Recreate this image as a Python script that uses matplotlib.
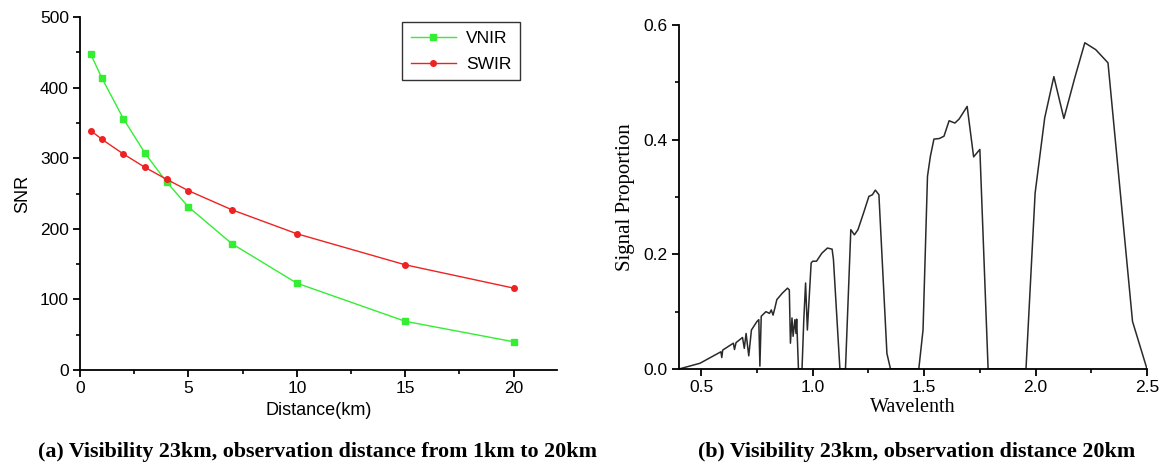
import matplotlib
matplotlib.use("Agg")
import matplotlib.pyplot as plt
from matplotlib.ticker import MultipleLocator, FormatStrFormatter

# ---------------- data ----------------
distance_km = [0.5, 1, 2, 3, 4, 5, 7, 10, 15, 20]
snr_vnir = [447, 414, 356, 307, 266, 231, 179, 123, 69, 40]
snr_swir = [339, 327, 306, 287, 270, 254, 227, 193, 149, 116]

wavelength = [0.400, 0.494, 0.588, 0.592, 0.596, 0.644, 0.649, 0.656, 0.685, 0.693,
              0.701, 0.713, 0.725, 0.750, 0.758, 0.763, 0.769, 0.790, 0.806, 0.814,
              0.822, 0.830, 0.839, 0.863, 0.887, 0.895, 0.900, 0.907, 0.912, 0.920,
              0.925, 0.928, 0.936, 0.952, 0.960, 0.968, 0.976, 0.993, 1.000, 1.017,
              1.041, 1.066, 1.087, 1.093, 1.122, 1.147, 1.171, 1.187, 1.203, 1.228,
              1.252, 1.268, 1.281, 1.297, 1.333, 1.349, 1.476, 1.495, 1.515, 1.528,
              1.544, 1.568, 1.589, 1.612, 1.638, 1.657, 1.693, 1.722, 1.750, 1.787,
              1.957, 1.998, 2.041, 2.082, 2.127, 2.176, 2.221, 2.270, 2.325, 2.435,
              2.500]
signal_prop = [0.000, 0.010, 0.030, 0.020, 0.033, 0.045, 0.034, 0.046, 0.055, 0.036,
               0.062, 0.023, 0.068, 0.083, 0.086, 0.005, 0.092, 0.100, 0.097, 0.103,
               0.094, 0.106, 0.121, 0.132, 0.141, 0.138, 0.045, 0.089, 0.057, 0.086,
               0.062, 0.087, 0.000, 0.000, 0.086, 0.150, 0.068, 0.185, 0.188, 0.188,
               0.202, 0.211, 0.209, 0.191, 0.000, 0.000, 0.243, 0.234, 0.243, 0.272,
               0.301, 0.304, 0.312, 0.304, 0.027, 0.000, 0.000, 0.068, 0.336, 0.371,
               0.401, 0.402, 0.406, 0.433, 0.429, 0.436, 0.458, 0.370, 0.383, 0.000,
               0.000, 0.307, 0.438, 0.510, 0.437, 0.508, 0.569, 0.557, 0.534, 0.083,
               0.000]

caption_a = "(a) Visibility 23km, observation distance from 1km to 20km"
caption_b = "(b) Visibility 23km, observation distance 20km"

# ---------------- figure ----------------
W, H = 1163, 467
fig = plt.figure(figsize=(W / 100, H / 100), dpi=100)

sans = "Liberation Sans"
serif = "Liberation Serif"

def style_axes(ax):
    for s in ("top", "right"):
        ax.spines[s].set_visible(False)
    for s in ("left", "bottom"):
        ax.spines[s].set_linewidth(1.3)
        ax.spines[s].set_color("black")
    ax.tick_params(which="major", direction="out", length=5, width=1.3,
                   labelsize=12.5, pad=3)
    ax.tick_params(which="minor", direction="out", length=3, width=1.2)
    for lab in ax.get_xticklabels() + ax.get_yticklabels():
        lab.set_fontfamily(sans)

# Left panel
ax1 = fig.add_axes([80 / W, 1 - 370 / H, 477 / W, 353 / H])
ax1.plot(distance_km, snr_vnir, color="#33ee33", lw=1.0, marker="s", ms=4,
         label="VNIR")
ax1.plot(distance_km, snr_swir, color="#ee2222", lw=1.0, marker="o", ms=4,
         label="SWIR")
ax1.set_xlim(0, 22)
ax1.set_ylim(0, 500)
ax1.xaxis.set_major_locator(MultipleLocator(5))
ax1.xaxis.set_minor_locator(MultipleLocator(2.5))
ax1.yaxis.set_major_locator(MultipleLocator(100))
ax1.yaxis.set_minor_locator(MultipleLocator(50))
style_axes(ax1)
ax1.set_xlabel("Distance(km)", fontfamily=sans, fontsize=13, labelpad=4)
ax1.set_ylabel("SNR", fontfamily=sans, fontsize=13, labelpad=6)
leg = ax1.legend(loc="upper left", bbox_to_anchor=(0.675, 0.985),
                 borderaxespad=0.0,
                 prop={"family": sans, "size": 12.5}, frameon=True,
                 fancybox=False, edgecolor="black", handlelength=2.6,
                 borderpad=0.5, labelspacing=0.6, handletextpad=0.6)
leg.get_frame().set_linewidth(1.0)

# Right panel
ax2 = fig.add_axes([679 / W, 1 - 369 / H, 468 / W, 344 / H])
ax2.plot(wavelength, signal_prop, color="#2a2a2a", lw=1.1)
ax2.set_xlim(0.4, 2.5)
ax2.set_ylim(0, 0.6)
ax2.xaxis.set_major_locator(MultipleLocator(0.5))
ax2.xaxis.set_minor_locator(MultipleLocator(0.25))
ax2.yaxis.set_major_locator(MultipleLocator(0.2))
ax2.yaxis.set_minor_locator(MultipleLocator(0.1))
ax2.xaxis.set_major_formatter(FormatStrFormatter("%.1f"))
ax2.yaxis.set_major_formatter(FormatStrFormatter("%.1f"))
style_axes(ax2)
ax2.set_xlabel("Wavelenth", fontfamily=serif, fontsize=14.5, labelpad=2)
ax2.set_ylabel("Signal Proportion", fontfamily=serif, fontsize=15, labelpad=6)

# Captions
fig.text(317 / W, 1 - 452 / H, caption_a, ha="center", va="center",
         fontfamily=serif, fontweight="bold", fontsize=15.8)
fig.text(917 / W, 1 - 452 / H, caption_b, ha="center", va="center",
         fontfamily=serif, fontweight="bold", fontsize=15.8)

fig.savefig("out.png", dpi=100)
